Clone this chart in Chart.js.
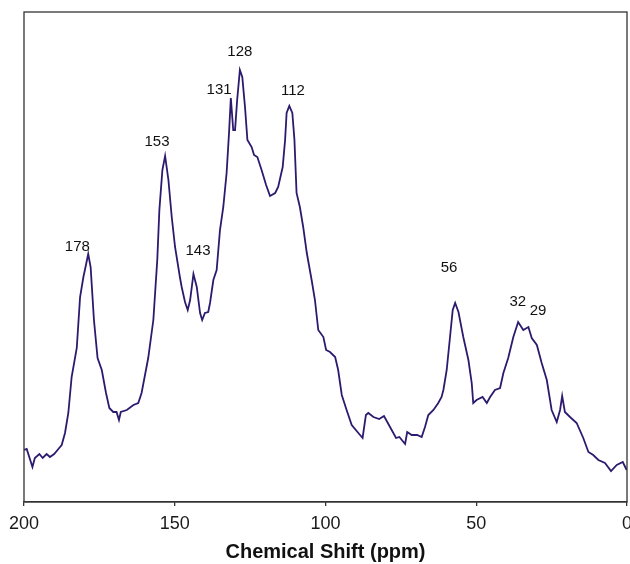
<!DOCTYPE html>
<html>
<head>
<meta charset="utf-8">
<script src="https://cdn.jsdelivr.net/npm/chart.js@4.4.1/dist/chart.umd.min.js"></script>
<style>
  html, body { margin: 0; padding: 0; background: #ffffff; }
  canvas { display: block; }
</style>
</head>
<body>
<canvas id="c" width="630" height="564"></canvas>
<script>
// Chemical shift (ppm)
const shiftPpm = [
  200.0, 199.1, 197.2, 196.4, 194.9, 193.8, 192.5, 191.4, 190.0, 188.6,
  187.5, 186.4, 185.3, 184.2, 182.5, 181.4, 180.3, 179.8, 178.7, 177.9,
  176.8, 175.6, 174.2, 172.8, 171.7, 170.4, 169.3, 168.5, 167.9, 165.9,
  163.7, 162.1, 161.0, 158.8, 157.1, 155.8, 155.1, 154.1, 153.2, 152.1,
  151.0, 149.9, 148.3, 147.7, 146.6, 145.7, 144.9, 143.8, 142.7, 141.6,
  140.9, 140.0, 138.9, 138.3, 137.2, 136.1, 135.0, 133.9, 132.8, 132.0,
  131.4, 130.6, 130.0, 129.3, 128.4, 127.6, 126.7, 125.9, 124.5, 123.7,
  122.6, 121.2, 119.7, 118.4, 116.7, 115.7, 114.2, 113.4, 112.9, 112.0,
  111.0, 110.3, 109.6, 108.5, 107.4, 106.2, 104.6, 103.5, 102.4, 100.7,
  99.8, 98.5, 96.8, 95.8, 94.6, 93.0, 91.3, 89.1, 87.7, 86.6,
  85.8, 84.1, 82.2, 80.6, 78.6, 76.6, 75.5, 73.6, 72.9, 71.4,
  69.6, 68.1, 67.0, 65.9, 64.2, 62.6, 61.5, 60.9, 59.8, 58.7,
  57.8, 57.0, 55.9, 54.3, 52.6, 51.5, 51.0, 49.9, 47.9, 46.5,
  45.4, 43.8, 42.1, 41.0, 39.4, 37.7, 36.1, 34.4, 32.7, 31.6,
  29.9, 28.3, 26.6, 25.0, 23.3, 22.2, 21.5, 20.6, 18.9, 16.7,
  14.5, 12.8, 11.2, 9.5, 7.3, 5.3, 3.4, 1.4, 0.1
];
// Signal intensity (arbitrary units)
const intensity = [
  52, 53, 35, 44, 48, 44, 48, 45, 48, 53,
  57, 69, 89, 125, 154, 205, 225, 232, 248, 235,
  182, 144, 132, 109, 94, 90, 90, 82, 90, 92,
  97, 99, 109, 144, 182, 242, 292, 332, 346, 322,
  285, 255, 225, 215, 200, 192, 202, 228, 215, 189,
  182, 189, 190, 199, 222, 232, 272, 295, 329, 369,
  404, 372, 372, 402, 432, 425, 395, 362, 355, 347,
  345, 332, 317, 306, 309, 315, 335, 362, 389, 396,
  389, 362, 309, 295, 275, 249, 222, 202, 172, 165,
  152, 150, 145, 132, 107, 92, 77, 69, 64, 87,
  89, 85, 83, 86, 75, 64, 65, 58, 70, 67,
  67, 65, 75, 87, 92, 99, 105, 112, 132, 165,
  192, 199, 190, 165, 142, 119, 99, 102, 105, 99,
  105, 112, 114, 129, 144, 165, 180, 172, 175, 164,
  157, 139, 122, 92, 80, 92, 106, 90, 85, 79,
  64, 50, 47, 42, 39, 31, 37, 40, 32
];
// Peak labels
const peakText = ["178", "153", "143", "131", "128", "112", "56", "32", "29"];
const peakPpm  = [182.3, 155.9, 142.3, 135.3, 128.4, 110.8, 59.0, 36.2, 29.5];
const peakY    = [255, 360, 251, 412, 450, 411, 234, 200, 191];
// Axis ticks
const xTicks = [200, 150, 100, 50, 0];

const points = shiftPpm.map((x, i) => ({ x: x, y: intensity[i] }));

const boxPlugin = {
  id: 'box',
  afterDraw(chart) {
    const a = chart.chartArea, ctx = chart.ctx;
    ctx.save();
    ctx.strokeStyle = '#333333';
    ctx.lineWidth = 1.3;
    ctx.strokeRect(a.left, a.top, a.right - a.left, a.bottom - a.top);
    ctx.restore();
  }
};

const labelPlugin = {
  id: 'peakLabels',
  afterDatasetsDraw(chart) {
    const ctx = chart.ctx, xs = chart.scales.x, ys = chart.scales.y;
    ctx.save();
    ctx.font = '15px "Liberation Sans", Arial, sans-serif';
    ctx.fillStyle = '#111111';
    ctx.textAlign = 'center';
    ctx.textBaseline = 'middle';
    peakText.forEach((t, i) => {
      ctx.fillText(t, xs.getPixelForValue(peakPpm[i]), ys.getPixelForValue(peakY[i]));
    });
    ctx.restore();
  }
};

new Chart(document.getElementById('c'), {
  type: 'line',
  data: {
    datasets: [{
      data: points,
      borderColor: '#2d1a6e',
      borderWidth: 1.8,
      pointRadius: 0,
      tension: 0,
      fill: false
    }]
  },
  options: {
    responsive: false,
    animation: false,
    devicePixelRatio: 1,
    layout: { padding: { top: 12, left: 24, right: 3, bottom: 0 } },
    plugins: { legend: { display: false }, tooltip: { enabled: false } },
    scales: {
      x: {
        type: 'linear',
        reverse: true,
        min: 0,
        max: 200,
        afterBuildTicks(scale) { scale.ticks = xTicks.map(v => ({ value: v })); },
        afterFit(scale) { scale.paddingLeft = 0; scale.paddingRight = 0; scale.height = 62; },
        ticks: {
          font: { family: '"Liberation Sans", Arial, sans-serif', size: 18 },
          color: '#1a1a1a',
          padding: 7,
          maxRotation: 0,
          autoSkip: false
        },
        grid: { drawOnChartArea: false, drawTicks: true, tickLength: 4, color: '#333333', lineWidth: 1.3 },
        border: { display: true, color: '#333333', width: 1.3 },
        title: {
          display: true,
          text: 'Chemical Shift (ppm)',
          font: { family: '"Liberation Sans", Arial, sans-serif', size: 20, weight: 'bold' },
          color: '#111111',
          padding: { top: 0, bottom: 0 }
        }
      },
      y: {
        display: false,
        min: 0,
        max: 490
      }
    }
  },
  plugins: [boxPlugin, labelPlugin]
});
</script>
</body>
</html>
